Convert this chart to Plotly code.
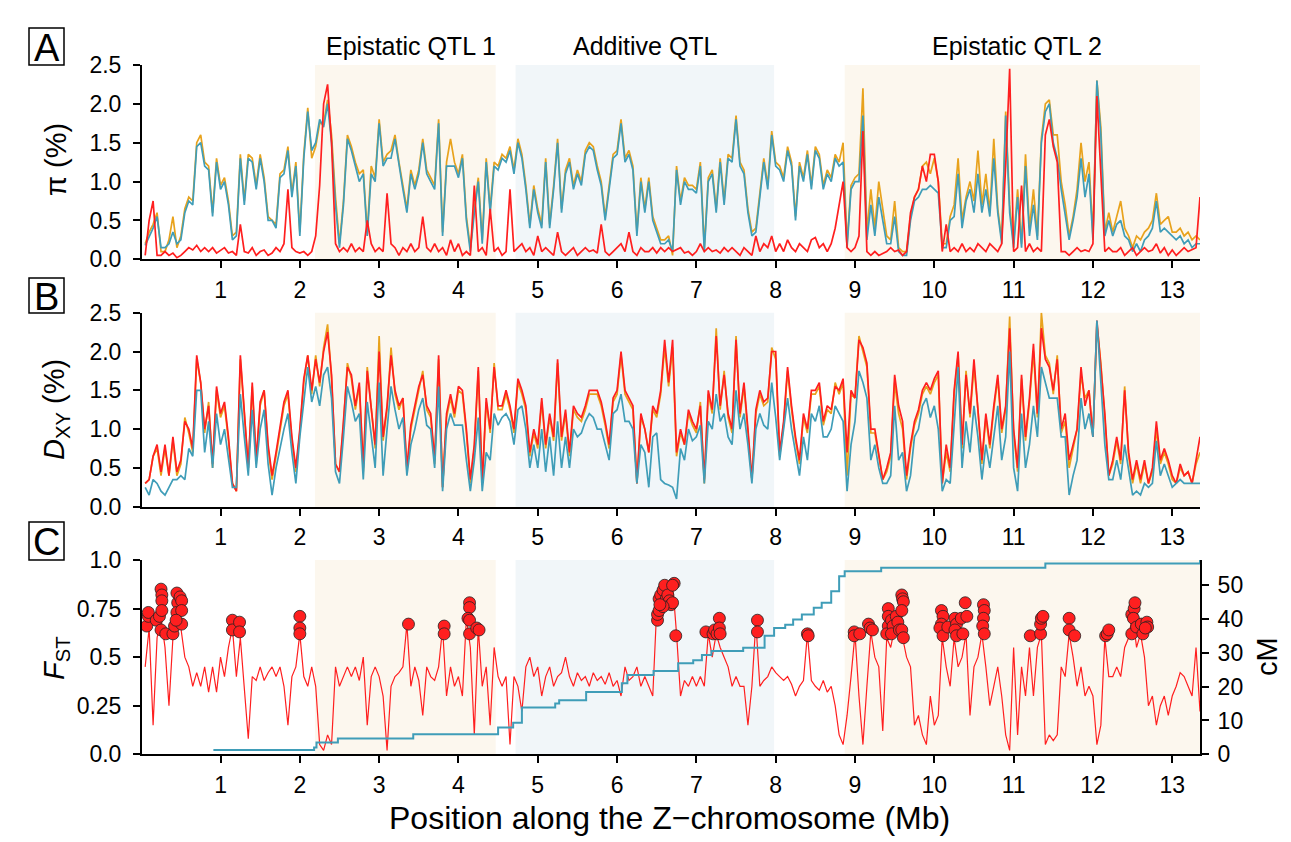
import plotly.graph_objects as go

W, H = 1291, 842
FONT = "Liberation Sans, Arial, sans-serif"

# 50-kb window centres along the Z chromosome (Mb)
pos = [round(0.05 * i, 2) for i in range(1, 268)]

pi_red = [0.05,0.5,0.75,0.05,0.05,0.1,0.05,0.08,0.02,0.05,
          0.1,0.15,0.12,0.18,0.1,0.15,0.1,0.15,0.08,0.12,
          0.15,0.08,0.1,0.05,0.45,0.1,0.08,0.15,0.05,0.1,
          0.12,0.05,0.08,0.15,0.1,0.2,0.9,0.15,0.1,0.08,
          0.1,0.05,0.1,0.3,0.95,2.0,2.25,1.5,0.2,0.1,
          0.15,0.1,0.2,0.1,0.15,0.1,0.5,0.2,0.1,0.15,
          0.1,0.85,0.2,0.15,0.05,0.15,0.1,0.2,0.1,0.15,
          0.55,0.15,
          0.1,0.2,0.1,0.15,0.05,0.25,0.1,0.2,0.05,0.1,
          0.05,0.95,0.1,0.15,0.05,0.65,0.1,0.15,0.05,0.1,
          0.9,0.1,0.15,0.2,0.1,0.15,0.05,0.3,0.1,0.15,
          0.1,0.05,0.35,0.1,0.05,0.1,0.15,0.05,0.1,0.15,
          0.1,0.12,0.08,0.45,0.1,0.05,0.1,0.15,0.2,0.1,
          0.35,0.1,0.05,0.15,0.1,0.1,0.15,0.08,0.15,0.1,
          0.15,0.1,0.12,0.15,0.08,0.1,0.05,0.1,0.2,0.1,
          0.15,0.1,0.12,0.08,0.15,0.1,0.15,0.1,0.05,0.15,
          0.1,0.05,0.3,0.1,0.2,0.15,0.3,0.1,0.2,0.1,
          0.25,0.15,0.1,0.2,0.15,0.1,0.25,0.28,0.15,0.2,
          0.1,0.2,0.4,0.7,1.0,0.15,0.1,0.15,
          0.3,1.65,0.1,0.05,0.1,0.05,0.08,0.1,0.15,0.1,
          0.12,0.05,0.1,0.6,0.8,0.9,1.2,1.0,1.35,1.35,
          1.0,0.1,0.45,0.1,0.15,0.1,0.2,0.1,0.15,0.1,
          0.2,0.15,0.1,0.2,0.15,0.1,0.2,1.2,2.45,0.1,
          0.15,0.95,0.1,0.2,0.1,0.15,0.1,1.6,1.8,1.45,
          1.25,0.1,0.1,0.05,0.1,0.15,0.1,0.12,0.1,0.2,
          2.1,1.0,0.1,0.15,0.1,0.1,0.15,0.05,0.1,0.15,
          0.05,0.1,0.15,0.1,0.12,0.2,0.08,0.15,0.05,0.12,
          0.05,0.1,0.15,0.1,0.12,0.15,0.8]

pi_orange = [0.2,0.35,0.45,0.6,0.1,0.1,0.25,0.55,0.15,0.3,
             0.65,0.8,0.75,1.5,1.6,1.25,1.2,0.6,1.3,0.95,
             1.05,0.75,0.3,0.35,1.35,0.75,1.35,1.3,0.95,1.35,
             1.05,0.55,0.5,0.45,1.1,1.15,1.45,0.85,1.25,0.35,
             1.35,1.95,1.3,1.45,1.75,1.75,2.05,1.6,0.8,0.2,
             0.75,1.6,1.45,1.25,1.1,1.15,0.35,1.2,1.05,1.8,
             1.25,1.35,1.4,1.6,1.25,0.95,0.65,1.15,0.95,1.15,
             1.55,1.15,
             1.05,0.95,1.8,0.35,1.25,1.55,1.25,1.1,1.35,0.55,
             0.15,0.65,1.05,0.25,1.3,0.65,1.25,1.2,1.35,1.3,
             1.45,1.15,1.55,1.35,0.95,0.45,0.95,0.65,0.45,1.3,
             0.45,0.95,1.55,0.65,1.15,1.3,0.95,1.15,1.0,1.4,
             1.5,1.45,1.2,1.0,0.55,0.95,1.35,1.4,1.8,1.3,
             1.4,1.2,0.35,1.05,0.65,1.05,0.55,0.4,0.25,0.25,
             0.3,0.05,1.2,0.75,1.05,0.95,0.95,0.9,1.25,0.15,
             1.05,1.15,0.65,1.3,0.75,1.35,1.3,1.85,1.25,1.15,
             0.65,0.35,0.4,0.85,1.3,0.95,1.65,1.25,1.2,1.05,
             1.45,1.25,0.55,1.25,1.05,1.4,0.95,1.45,1.35,0.95,
             1.15,1.05,1.35,1.25,1.5,0.2,0.95,1.05,
             1.1,2.2,0.35,0.9,0.4,1.0,0.65,0.3,0.25,0.75,
             0.15,0.1,0.1,0.55,0.8,0.9,1.2,1.25,1.1,1.3,
             1.0,0.2,0.2,0.55,0.7,1.3,0.5,0.8,1.0,0.75,
             1.4,0.7,1.1,0.6,1.55,0.65,0.25,1.9,0.7,0.2,
             0.9,0.2,1.35,0.4,0.9,0.3,1.55,2.0,2.05,1.6,
             1.6,1.0,0.7,0.3,0.55,0.9,1.5,1.0,1.25,0.3,
             2.3,1.7,0.35,0.6,0.35,0.55,0.75,0.4,0.3,0.15,
             0.3,0.25,0.35,0.4,0.5,0.85,0.45,0.5,0.55,0.35,
             0.35,0.4,0.3,0.35,0.25,0.3,0.25]

pi_blue = [0.18,0.3,0.4,0.55,0.15,0.15,0.2,0.35,0.2,0.25,
           0.6,0.75,0.7,1.45,1.5,1.2,1.15,0.55,1.25,0.9,
           1.0,0.7,0.25,0.3,1.3,0.7,1.3,1.25,0.9,1.3,
           1.0,0.5,0.5,0.4,1.05,1.1,1.4,0.8,1.2,0.3,
           1.3,1.9,1.4,1.5,1.8,1.7,2.0,1.5,0.7,0.15,
           0.7,1.55,1.4,1.2,1.0,1.1,0.3,1.1,1.0,1.75,
           1.2,1.3,1.3,1.55,1.2,0.9,0.6,1.1,0.9,1.1,
           1.5,1.1,
           1.0,0.9,1.75,0.3,1.2,1.2,1.2,1.05,1.3,0.5,
           0.1,0.6,1.0,0.2,1.25,0.6,1.2,1.15,1.3,1.25,
           1.4,1.1,1.5,1.3,0.9,0.4,0.9,0.6,0.4,1.25,
           0.4,0.9,1.5,0.6,1.1,1.25,0.9,1.1,0.95,1.35,
           1.45,1.4,1.15,0.95,0.5,0.9,1.3,1.35,1.75,1.25,
           1.35,1.15,0.3,1.0,0.6,1.0,0.5,0.35,0.2,0.2,
           0.25,0.1,1.15,0.7,1.0,0.9,0.9,0.85,1.2,0.1,
           1.0,1.1,0.6,1.25,0.7,1.3,1.25,1.8,1.2,1.1,
           0.6,0.3,0.35,0.8,1.25,0.9,1.6,1.2,1.15,1.0,
           1.4,1.2,0.5,1.2,1.0,1.35,0.9,1.4,1.3,0.9,
           1.1,1.0,1.3,1.2,1.25,0.15,0.9,1.0,
           1.0,1.85,0.25,0.7,0.3,0.8,0.5,0.2,0.2,0.55,
           0.1,0.05,0.05,0.5,0.75,0.8,0.9,0.9,0.95,0.9,
           0.85,0.15,0.15,0.5,0.55,1.1,0.4,0.75,0.9,0.6,
           1.1,0.6,0.9,0.55,1.3,0.6,0.2,1.85,0.6,0.15,
           0.8,0.15,1.2,0.3,0.7,0.25,1.5,1.9,2.0,1.5,
           1.3,0.9,0.6,0.25,0.5,0.8,1.3,0.8,1.1,0.25,
           2.3,1.6,0.3,0.5,0.3,0.45,0.5,0.3,0.25,0.1,
           0.2,0.1,0.25,0.3,0.4,0.75,0.35,0.4,0.35,0.3,
           0.25,0.3,0.2,0.25,0.15,0.2,0.2]

dxy_red = [0.3,0.35,0.65,0.8,0.45,0.8,0.4,0.9,0.45,0.6,
           1.1,1.0,0.75,1.95,1.6,1.0,1.3,0.55,1.55,1.2,
           1.35,0.9,0.3,0.2,1.95,1.2,0.5,1.6,0.6,1.35,
           1.5,0.8,0.4,0.7,1.0,1.35,1.5,0.9,0.5,1.0,
           1.65,1.95,1.5,1.9,1.6,2.0,2.25,1.7,0.55,0.45,
           1.1,1.8,1.7,1.3,1.6,0.5,1.75,1.3,0.8,2.0,
           0.9,1.3,1.95,1.5,1.3,1.4,0.5,1.05,1.3,1.55,
           1.7,1.3,
           1.2,0.6,1.95,0.25,1.2,1.45,1.2,1.55,1.5,1.0,
           0.35,0.8,1.8,0.3,1.4,1.0,1.8,1.3,1.3,1.5,
           1.3,1.0,1.65,1.5,1.3,0.7,1.0,0.8,1.4,0.8,
           1.2,0.9,1.9,0.9,1.25,0.7,1.3,1.2,1.15,1.3,
           1.5,1.5,1.5,1.35,1.1,0.8,1.4,1.5,2.0,1.5,
           1.4,1.3,0.3,1.2,1.0,0.7,1.3,1.2,1.5,2.15,
           1.6,2.15,0.7,1.0,0.8,1.25,1.1,1.0,1.3,0.35,
           1.5,1.25,2.2,1.3,1.7,1.2,1.0,2.15,1.2,1.6,
           1.0,0.35,1.25,1.5,1.35,1.4,2.0,2.0,0.7,1.1,
           1.8,1.3,0.9,0.6,1.2,1.0,1.5,1.5,1.6,1.1,
           1.3,1.25,1.55,1.5,1.65,0.7,1.5,1.4,
           2.15,2.05,1.85,1.0,1.0,0.7,0.35,0.5,0.7,1.7,
           1.3,1.1,0.4,0.8,1.1,1.25,1.5,1.6,1.5,1.65,
           1.75,0.3,0.8,0.5,1.5,2.0,0.8,1.7,1.2,1.9,
           1.3,0.6,1.2,0.8,1.3,1.7,1.0,1.3,2.3,1.0,
           0.5,1.7,0.9,1.4,2.1,1.2,2.3,1.9,1.8,1.5,
           1.9,1.0,1.2,0.6,0.8,1.0,1.8,1.3,1.5,0.9,
           2.4,1.8,1.2,0.4,0.6,0.9,0.6,1.5,0.7,0.35,
           0.6,0.35,0.6,0.3,0.5,1.1,0.6,0.75,0.6,0.4,
           0.3,0.55,0.4,0.45,0.3,0.6,0.9]

dxy_orange = [0.3,0.35,0.65,0.75,0.4,0.75,0.4,0.85,0.4,0.55,
              1.15,0.95,0.7,1.9,1.6,0.95,1.35,0.5,1.5,1.15,
              1.3,0.85,0.3,0.2,1.9,1.15,0.5,1.55,0.55,1.3,
              1.5,0.75,0.35,0.65,1.0,1.3,1.45,0.85,0.45,0.95,
              1.6,1.95,1.45,1.95,1.55,2.05,2.35,1.65,0.55,0.45,
              1.05,1.85,1.65,1.25,1.55,0.45,1.8,1.25,0.75,2.2,
              0.85,1.25,2.05,1.45,1.25,1.4,0.45,1.0,1.25,1.5,
              1.75,1.25,
              1.15,0.55,1.9,0.25,1.15,1.4,1.15,1.5,1.45,0.95,
              0.3,0.75,1.75,0.3,1.35,0.95,1.85,1.25,1.25,1.45,
              1.25,0.95,1.6,1.45,1.25,0.65,0.95,0.75,1.35,0.75,
              1.15,0.85,1.85,0.85,1.2,0.65,1.25,1.15,1.1,1.25,
              1.45,1.45,1.45,1.3,1.05,0.75,1.35,1.45,1.95,1.45,
              1.35,1.25,0.3,1.15,1.0,0.7,1.25,1.15,1.45,2.05,
              1.55,2.05,0.65,0.95,0.8,1.2,1.05,0.95,1.35,0.3,
              1.45,1.2,2.3,1.25,1.75,1.15,0.95,2.2,1.15,1.55,
              0.95,0.35,1.2,1.45,1.3,1.35,2.05,1.9,0.65,1.05,
              1.75,1.25,0.85,0.55,1.15,0.95,1.45,1.45,1.55,1.05,
              1.25,1.2,1.6,1.45,1.6,0.4,1.45,1.4,
              2.2,2.0,1.8,0.95,0.95,0.65,0.35,0.45,0.65,1.6,
              1.2,1.0,0.35,0.75,1.05,1.2,1.45,1.55,1.45,1.6,
              1.7,0.3,0.7,0.45,1.45,1.95,0.75,1.75,1.15,1.8,
              1.25,0.55,1.15,0.75,1.25,1.65,0.95,1.25,2.45,0.95,
              0.45,1.65,0.85,1.35,2.0,1.15,2.5,1.95,1.85,1.45,
              1.95,0.95,1.1,0.5,0.75,1.0,1.7,1.4,1.5,0.9,
              2.35,1.85,1.15,0.4,0.55,0.85,0.55,1.55,0.65,0.3,
              0.55,0.3,0.55,0.3,0.45,1.0,0.55,0.7,0.55,0.35,
              0.3,0.5,0.4,0.45,0.3,0.55,0.7]

dxy_blue = [0.25,0.15,0.35,0.3,0.2,0.15,0.25,0.35,0.35,0.4,
            0.35,0.75,0.65,1.5,1.5,0.7,1.1,0.5,1.2,0.8,
            1.0,0.6,0.25,0.25,1.45,0.9,0.4,1.25,0.5,1.0,
            1.25,0.55,0.15,0.5,0.75,1.0,1.2,0.7,0.3,0.9,
            1.35,1.8,1.35,1.55,1.3,1.7,1.8,1.4,0.45,0.3,
            0.9,1.55,1.35,1.1,1.2,0.35,1.35,0.9,0.5,1.6,
            0.4,1.0,1.55,1.25,1.0,1.15,0.4,0.8,1.0,1.25,
            1.4,1.05,
            1.0,0.5,1.55,0.2,1.0,1.2,1.05,1.05,1.05,0.6,
            0.2,0.6,1.15,0.2,0.7,0.6,1.2,1.05,1.15,1.2,
            1.1,0.8,1.25,1.3,1.0,0.5,0.8,0.5,1.0,0.45,
            0.9,0.4,1.1,0.5,0.9,0.5,1.0,0.9,0.95,1.1,
            1.2,1.15,1.0,1.0,0.8,0.6,1.2,1.25,1.45,1.1,
            1.1,1.0,0.3,0.8,0.7,0.25,0.9,0.95,0.35,0.3,
            0.28,0.25,0.1,0.75,0.6,1.0,0.85,0.9,1.05,0.3,
            1.1,1.0,1.45,1.1,1.2,0.9,0.8,1.5,1.0,1.2,
            0.8,0.3,1.0,1.2,1.05,1.0,1.6,1.15,0.6,1.0,
            1.4,1.0,0.7,0.4,0.9,0.6,1.2,1.1,1.3,0.9,
            0.9,1.0,1.3,1.2,1.1,0.2,0.8,1.1,
            1.75,1.6,1.4,0.6,0.8,0.5,0.3,0.3,0.4,1.3,
            0.6,0.7,0.2,0.4,0.9,1.0,1.3,1.4,1.15,1.3,
            1.0,0.2,0.35,0.3,1.1,1.8,0.5,1.1,0.7,1.3,
            0.9,0.35,0.8,0.5,0.9,1.3,0.6,0.9,2.0,0.5,
            0.2,1.2,0.5,0.8,1.3,0.9,1.8,1.6,1.4,1.4,
            1.4,0.9,0.9,0.15,0.4,0.6,1.4,1.0,1.2,0.9,
            2.4,1.6,0.8,0.35,0.35,0.6,0.35,0.8,0.5,0.15,
            0.2,0.15,0.3,0.25,0.3,0.85,0.4,0.55,0.4,0.25,
            0.3,0.35,0.3,0.3,0.3,0.3,0.3]

fst = [0.45,0.65,0.15,0.6,0.7,0.55,0.25,0.6,0.7,0.65,
       0.5,0.45,0.35,0.42,0.35,0.45,0.32,0.45,0.32,0.5,
       0.4,0.55,0.65,0.4,0.6,0.35,0.08,0.4,0.38,0.45,
       0.38,0.42,0.45,0.4,0.45,0.35,0.15,0.4,0.45,0.62,
       0.4,0.35,0.45,0.35,0.05,0.02,0.1,0.05,0.45,0.35,
       0.4,0.45,0.4,0.45,0.38,0.5,0.15,0.4,0.45,0.4,
       0.3,0.02,0.35,0.4,0.42,0.45,0.67,0.35,0.45,0.38,
       0.2,0.45,
       0.4,0.38,0.45,0.65,0.3,0.45,0.35,0.4,0.3,0.7,
       0.55,0.1,0.65,0.35,0.45,0.15,0.55,0.4,0.35,0.4,
       0.05,0.4,0.35,0.22,0.45,0.5,0.4,0.45,0.3,0.4,
       0.45,0.35,0.4,0.42,0.5,0.4,0.35,0.42,0.38,0.4,
       0.35,0.42,0.38,0.4,0.36,0.42,0.35,0.38,0.3,0.45,
       0.38,0.4,0.45,0.35,0.4,0.35,0.3,0.75,0.8,0.85,
       0.82,0.88,0.62,0.3,0.38,0.35,0.4,0.35,0.4,0.35,
       0.62,0.5,0.62,0.55,0.5,0.45,0.35,0.4,0.35,0.35,
       0.15,0.35,0.68,0.35,0.38,0.4,0.45,0.42,0.4,0.38,
       0.4,0.36,0.3,0.35,0.38,0.62,0.38,0.35,0.33,0.38,
       0.32,0.35,0.25,0.1,0.05,0.2,0.4,0.62,
       0.3,0.05,0.35,0.63,0.5,0.45,0.12,0.6,0.55,0.65,
       0.62,0.6,0.5,0.45,0.15,0.2,0.1,0.05,0.3,0.15,
       0.2,0.6,0.45,0.35,0.6,0.45,0.5,0.62,0.2,0.45,
       0.5,0.62,0.45,0.25,0.35,0.45,0.3,0.1,0.02,0.55,
       0.1,0.45,0.3,0.55,0.3,0.55,0.62,0.05,0.1,0.07,
       0.1,0.45,0.4,0.62,0.5,0.35,0.45,0.3,0.35,0.3,
       0.05,0.15,0.6,0.4,0.4,0.45,0.4,0.55,0.6,0.72,
       0.55,0.62,0.5,0.25,0.3,0.15,0.25,0.3,0.2,0.3,
       0.35,0.42,0.4,0.35,0.3,0.55,0.22]

# Outlier FST windows (red dots)
out_x = [0.07,0.09,0.09,0.19,0.23,0.25,0.26,0.26,0.26,0.25,0.31,0.40,0.42,0.45,0.46,0.45,0.49,0.51,0.51,0.51,0.44,
         1.15,1.15,1.24,1.24,2.0,2.0,2.0,3.37,
         3.82,3.82,4.14,4.14,4.12,4.14,4.14,4.23,4.26,
         6.51,6.51,6.53,6.53,6.55,6.58,6.60,6.62,6.64,6.66,6.68,6.70,6.72,6.70,6.58,6.54,6.74,
         7.12,7.21,7.23,7.26,7.29,7.29,7.30,7.77,7.77,8.40,8.41,8.99,8.99,
         9.06,9.17,9.19,9.22,9.42,9.42,9.42,9.40,9.46,9.48,9.46,9.52,9.54,9.56,9.59,9.60,9.61,9.59,9.59,9.61,
         10.09,10.11,10.09,10.07,10.11,10.17,10.26,10.28,10.26,10.28,10.34,10.39,10.41,10.36,
         10.62,10.63,10.62,10.61,10.63,11.21,11.34,11.34,11.35,11.37,11.70,11.70,11.77,
         12.16,12.18,12.20,12.49,12.52,12.53,12.51,12.49,12.55,12.61,12.63,12.68,12.69,12.66]
out_y = [0.66,0.71,0.73,0.69,0.71,0.85,0.82,0.79,0.74,0.64,0.62,0.62,0.66,0.83,0.78,0.73,0.81,0.79,0.74,0.67,0.69,
         0.69,0.64,0.68,0.63,0.71,0.65,0.62,0.67,
         0.66,0.62,0.78,0.755,0.70,0.69,0.62,0.65,0.64,
         0.69,0.72,0.74,0.80,0.82,0.845,0.87,0.80,0.82,0.79,0.77,0.78,0.88,0.87,0.76,0.77,0.61,
         0.63,0.62,0.64,0.62,0.70,0.65,0.62,0.69,0.63,0.62,0.61,0.63,0.61,
         0.62,0.67,0.65,0.64,0.75,0.71,0.66,0.62,0.69,0.66,0.62,0.71,0.68,0.64,0.82,0.80,0.785,0.74,0.64,0.60,
         0.74,0.71,0.67,0.65,0.61,0.655,0.70,0.67,0.64,0.61,0.70,0.78,0.71,0.62,
         0.77,0.74,0.70,0.66,0.62,0.61,0.62,0.67,0.70,0.71,0.70,0.64,0.61,
         0.61,0.62,0.64,0.72,0.75,0.78,0.70,0.62,0.655,0.67,0.62,0.68,0.655,0.65]

# Genetic map (cM) step positions
cm_pos = [0.91,2.18,2.21,2.48,3.43,4.50,4.69,4.80,5.22,5.27,5.61,6.06,6.13,6.46,6.77,6.96,7.07,7.19,7.59,
          7.86,7.98,8.12,8.22,8.33,8.48,8.58,8.70,8.80,8.87,9.33,11.40,13.34,13.35]
cm_val = [1.3,2.0,3.5,4.7,5.9,7.9,9.3,13.8,15.0,16.0,18.4,21.0,23.4,24.6,26.9,27.8,29.3,30.5,31.5,
          35.0,37.3,38.3,39.8,41.3,43.3,44.8,48.2,52.6,54.1,55.1,56.4,56.4,57.6]

regions = [("Epistatic QTL 1", 2.19, 4.47, "#FCF7EE"),
           ("Additive QTL", 4.72, 7.98, "#F1F6F9"),
           ("Epistatic QTL 2", 8.87, 13.35, "#FCF7EE")]

for s in (pi_red, pi_orange, pi_blue, dxy_red, dxy_orange, dxy_blue, fst):
    assert len(s) == len(pos), len(s)
assert len(out_x) == len(out_y)
assert len(cm_pos) == len(cm_val)

RED = "#FF1F1F"
ORANGE = "#E8A21C"
TEAL = "#3F9DB8"

fig = go.Figure()

def line(x, y, color, xa, ya, width=1.7):
    fig.add_trace(go.Scatter(x=x, y=y, mode="lines", line=dict(color=color, width=width),
                             xaxis=xa, yaxis=ya, showlegend=False, hoverinfo="skip"))

# Panel A
line(pos, pi_orange, ORANGE, "x", "y")
line(pos, pi_blue, TEAL, "x", "y")
line(pos, pi_red, RED, "x", "y")
# Panel B
line(pos, dxy_orange, ORANGE, "x2", "y2")
line(pos, dxy_red, RED, "x2", "y2")
line(pos, dxy_blue, TEAL, "x2", "y2")
# Panel C
line(pos, fst, RED, "x3", "y3", width=1.2)
fig.add_trace(go.Scatter(x=out_x, y=out_y, mode="markers",
                         marker=dict(color=RED, size=12, line=dict(color="#222222", width=0.8)),
                         xaxis="x3", yaxis="y3", showlegend=False, hoverinfo="skip"))
fig.add_trace(go.Scatter(x=cm_pos, y=cm_val, mode="lines", line=dict(color=TEAL, width=2, shape="hv"),
                         xaxis="x3", yaxis="y4", showlegend=False, hoverinfo="skip"))

def yd(top_px, bot_px):
    return [1 - bot_px / H, 1 - top_px / H]

XDOM = [142 / W, 1200 / W]
tickfont = dict(family=FONT, size=23, color="black")
xcommon = dict(range=[0.01, 13.35], tickvals=list(range(1, 14)), ticks="outside", ticklen=7,
               tickwidth=1.5, tickcolor="black", showline=True, linecolor="black", linewidth=2,
               showgrid=False, zeroline=False, tickfont=tickfont, domain=XDOM, automargin=False,
               ticklabelstandoff=2)
ycommon = dict(ticks="outside", ticklen=7, tickwidth=1.5, tickcolor="black", showline=True,
               linecolor="black", linewidth=2, showgrid=False, zeroline=False, tickfont=tickfont,
               automargin=False)

pi_ticks = [0, 0.5, 1.0, 1.5, 2.0, 2.5]
pi_text = ["0.0", "0.5", "1.0", "1.5", "2.0", "2.5"]
fst_ticks = [0, 0.25, 0.5, 0.75, 1.0]
fst_text = ["0.0", "0.25", "0.5", "0.75", "1.0"]
cm_ticks = [0, 10, 20, 30, 40, 50]

fig.update_layout(
    width=W, height=H, margin=dict(l=0, r=0, t=0, b=0, pad=0),
    paper_bgcolor="white", plot_bgcolor="white", showlegend=False,
    xaxis=dict(xcommon, anchor="y"),
    xaxis2=dict(xcommon, anchor="y2"),
    xaxis3=dict(xcommon, anchor="y3"),
    yaxis=dict(ycommon, range=[0, 2.5], tickvals=pi_ticks, ticktext=pi_text, domain=yd(65, 259.3),
               anchor="x", ticklabelstandoff=7),
    yaxis2=dict(ycommon, range=[0, 2.5], tickvals=pi_ticks, ticktext=pi_text, domain=yd(312.7, 506.7),
                anchor="x2", ticklabelstandoff=7),
    yaxis3=dict(ycommon, range=[0, 1.0], tickvals=fst_ticks, ticktext=fst_text, domain=yd(560, 754.3),
                anchor="x3", ticklabelstandoff=7),
    yaxis4=dict(ycommon, range=[0, 57.4], tickvals=cm_ticks, overlaying="y3", side="right", anchor="x3",
                ticklabelstandoff=4),
)

shapes = []
for xa, ya in (("x", "y"), ("x2", "y2"), ("x3", "y3")):
    for name, x0, x1, col in regions:
        shapes.append(dict(type="rect", xref=xa, yref=ya + " domain", x0=x0, x1=x1, y0=0, y1=1,
                           fillcolor=col, line=dict(width=0), layer="below"))
# Panel letter boxes
boxes = ((28, 65), (278, 313), (522, 560))
for (top, bot) in boxes:
    shapes.append(dict(type="rect", xref="paper", yref="paper", x0=29 / W, x1=64 / W,
                       y0=1 - bot / H, y1=1 - top / H, line=dict(color="black", width=1.5),
                       fillcolor="rgba(0,0,0,0)"))
fig.update_layout(shapes=shapes)

ann = []
def text(t, xpx, ypx, size, angle=0):
    ann.append(dict(text=t, x=xpx / W, y=1 - ypx / H, xref="paper", yref="paper", showarrow=False,
                    xanchor="center", yanchor="middle", textangle=angle,
                    font=dict(family=FONT, size=size, color="black")))

for letter, (top, bot) in zip("ABC", boxes):
    text(letter, 46.5, (top + bot) / 2 + 1, 38)

text("Epistatic QTL 1", 411, 46, 25)
text("Additive QTL", 645, 46, 25)
text("Epistatic QTL 2", 1017, 46, 25)

text("π (%)", 56, 159, 29, -90)
text("<i>D</i><sub>XY</sub> (%)", 56, 409, 29, -90)
text("<i>F</i><sub>ST</sub>", 56, 658, 29, -90)
text("cM", 1267, 657, 29, -90)
text("Position along the Z\u2212chromosome (Mb)", 669, 818, 32)

fig.update_layout(annotations=ann)

fig.write_html("out.html", config={"displayModeBar": False})
